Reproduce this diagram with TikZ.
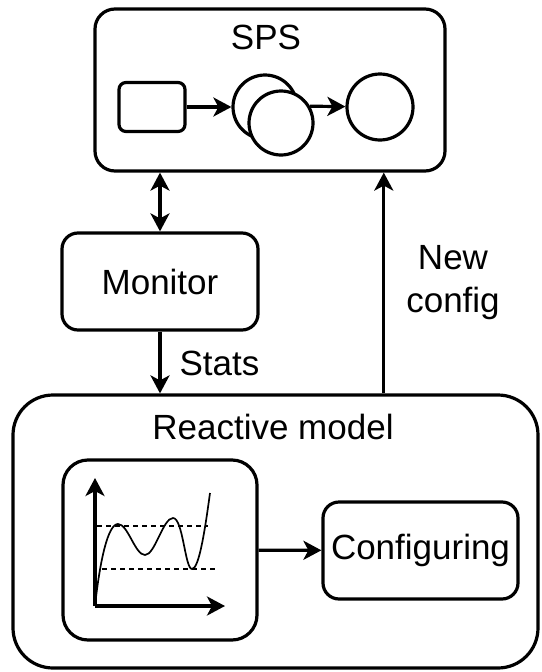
\documentclass[tikz,border=0pt]{standalone}
\usepackage{fontspec}
\setmainfont{Liberation Sans}
\usetikzlibrary{calc}
\usetikzlibrary{positioning}
\usetikzlibrary{arrows.meta}

\begin{document}
\begin{tikzpicture}
    [%
        x=1pt,y=-1pt,%
        >={Stealth[length=18pt,width=19pt,inset=5pt]},%
        line width=3.2pt,%
        every node/.style={%
            font=\fontsize{35}{43}\selectfont,%
            inner sep=0pt%
        },%
        box/.style={%
            draw,%
            rectangle,%
            rounded corners=16pt%
        },%
        operator/.style={%
            draw,%
            circle,%
            fill=white,%
            minimum size=64pt%
        },%
        level/.style={%
            line width=1.5pt,%
            dash pattern=on 5pt off 4pt%
        },%
        trend/.style={%
            line width=1.7pt%
        }%
    ]%
    \useasboundingbox (0,0) rectangle (541,672);
%
    % stream processing system
    \node[box, rounded corners=20pt, minimum width=350pt, minimum height=162pt] (sps) at (270,90) {};
    \node (sps-label) at (266,37) {SPS};
    \node[box, rounded corners=7pt, minimum width=66pt, minimum height=49pt] (queue) at (152,107) {};
    \node[operator] (op1) at (265,107) {};
    \node[operator] (op2) at (281,123) {};
    \node[operator, minimum size=66pt] (op3) at (380,107) {};
    \draw[->] (queue) -- (op1);
    \draw[->] (op2.30) -- (op3);
%
    \node[box, minimum width=196pt, minimum height=97pt] (monitor) at (160,281.5) {Monitor};
    \draw[<->] (monitor.north |- sps.south) -- (monitor.north);
%
    % reactive model
    \node[box, rounded corners=40pt, minimum width=525pt, minimum height=273pt] (reactive) at (275.5,531.5) {};
    \node (reactive-label) at (273,427) {Reactive model};
    \node[box, rounded corners=25pt, minimum width=194pt, minimum height=180pt] (chart) at (160,550) {};
    \node[box, minimum width=195pt, minimum height=97pt] (configuring) at (420.5,550.5) {Configuring};
    \draw[->] (chart) -- (configuring);
%
    \draw[->] (monitor.south) -- (monitor.south |- reactive.north);
    \node[anchor=west] (stats-label) at (178,363) {Stats};
    \coordinate (newcfg) at ($(reactive.north west)!0.705!(reactive.north east)$);
    \draw[->] (newcfg) -- (newcfg |- sps.south);
    \node[align=center] (newcfg-label) at (453,283) {New\\config};
%
    % plot inside the model
    \coordinate (origin) at (95,606);
    \coordinate (y-end) at (95,478);
    \coordinate (x-end) at (225,606);
    \draw[->] (origin) -- (y-end);
    \draw[->] (origin) -- (x-end);
    \foreach \y/\from/\to in {526/97/208, 569/102/215}
        \draw[level] (\from,\y) -- (\to,\y);
    \draw[trend] (origin)
        .. controls (100,560) and (108,524) .. (118,524)
        .. controls (128,524) and (135,555) .. (145,555)
        .. controls (155,555) and (163,518) .. (173,518)
        .. controls (183,518) and (185,569) .. (192,569)
        .. controls (199,569) and (205,530) .. (210,493);
\end{tikzpicture}
\end{document}
